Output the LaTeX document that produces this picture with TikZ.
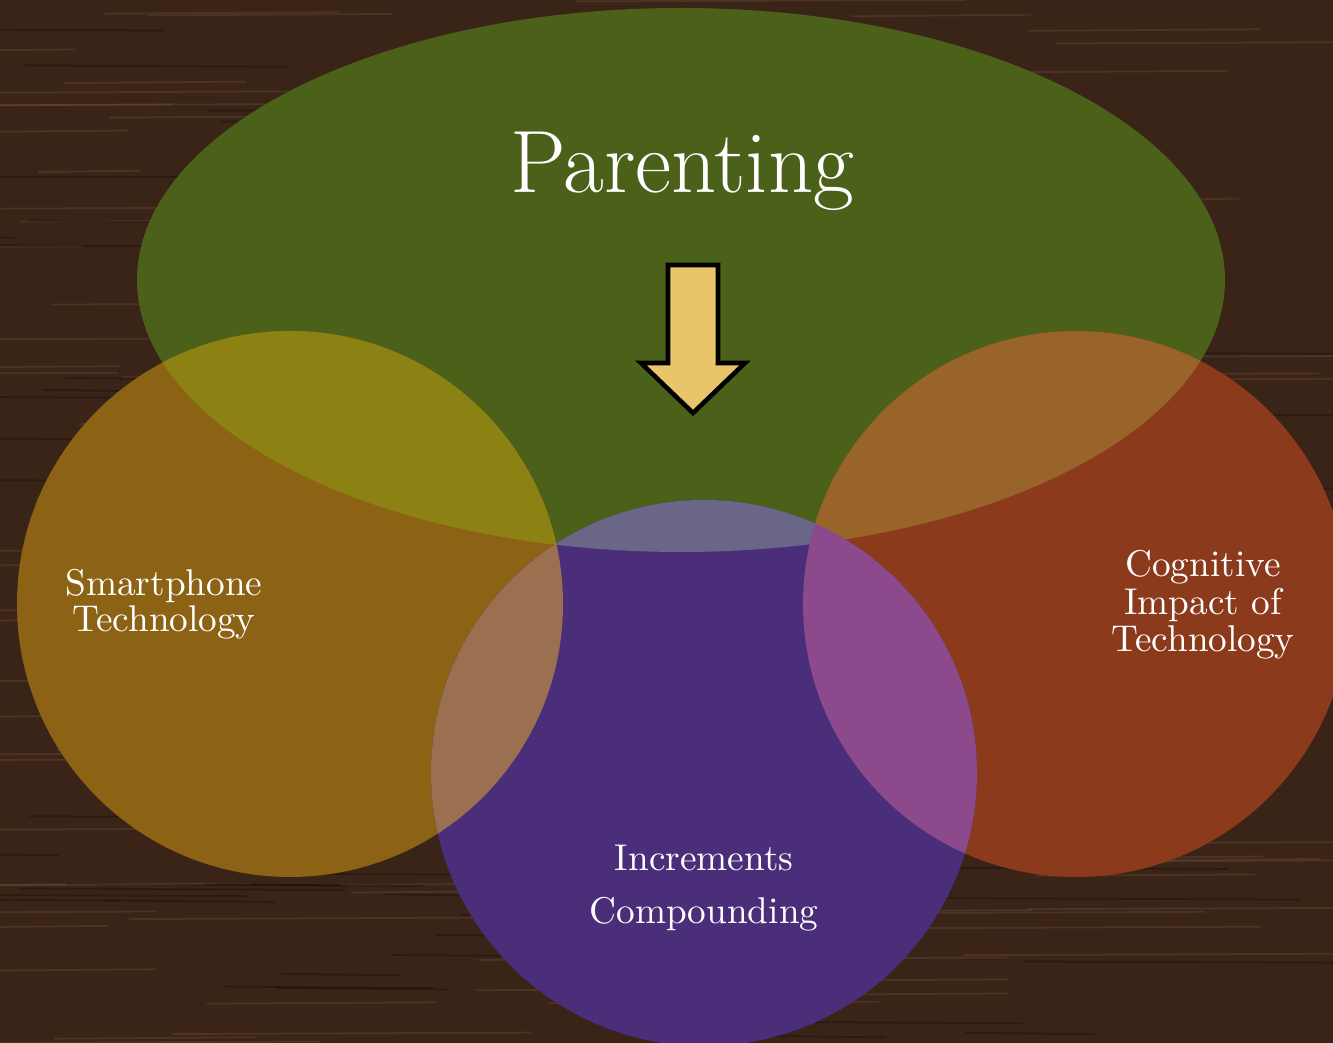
\documentclass[tikz,border=0pt]{standalone}
\usetikzlibrary{calc}
\definecolor{bgwood}{HTML}{3A2418}
\definecolor{cgreen}{HTML}{4B6018}
\definecolor{corange}{HTML}{8C6214}
\definecolor{cred}{HTML}{8C3A1C}
\definecolor{cpurple}{HTML}{4A2E7A}
\definecolor{cgo}{HTML}{8C8214}
\definecolor{cgr}{HTML}{98642A}
\definecolor{cgp}{HTML}{6A6688}
\definecolor{cop}{HTML}{9A7050}
\definecolor{cpr}{HTML}{8C4A8C}
\definecolor{arrowfill}{HTML}{E8C46A}
\tikzset{
  lbl/.style={text=white, inner sep=0pt, anchor=base, font=\fontsize{10.6}{10.6}\selectfont},
  title/.style={text=white, inner sep=0pt, anchor=base, font=\fontsize{25.2}{25.2}\selectfont},
  grain/.style={line width=0.5pt, opacity=0.12},
}
\begin{document}
\begin{tikzpicture}
\useasboundingbox (0,0) rectangle (13.33,10.43);
\fill[bgwood] (0,0) rectangle (13.33,10.43);
% faint wood grain
\pgfmathsetseed{7}
\foreach \i in {1,...,140}{
  \pgfmathsetmacro{\yy}{rnd*10.43}
  \pgfmathsetmacro{\xa}{rnd*13.33-2}
  \pgfmathsetmacro{\ll}{1+rnd*3}
  \draw[grain, draw=brown!70!white] (\xa,\yy) -- ++(\ll,0.015);
}
\foreach \i in {1,...,100}{
  \pgfmathsetmacro{\yy}{rnd*10.43}
  \pgfmathsetmacro{\xa}{rnd*13.33-2}
  \pgfmathsetmacro{\ll}{1+rnd*3}
  \draw[grain, draw=black, opacity=0.25] (\xa,\yy) -- ++(\ll,-0.015);
}
\def\ellG{(6.81,7.63) ellipse [x radius=5.44, y radius=2.72]}
\def\cirO{(2.90,4.39) circle [radius=2.73]}
\def\cirR{(10.76,4.39) circle [radius=2.73]}
\def\cirP{(7.04,2.70) circle [radius=2.73]}
% base shapes
\fill[cgreen] \ellG;
\fill[corange] \cirO;
\fill[cred] \cirR;
\fill[cpurple] \cirP;
% overlaps
\begin{scope}\clip \ellG; \fill[cgo] \cirO; \fill[cgr] \cirR; \fill[cgp] \cirP; \end{scope}
\begin{scope}\clip \cirO; \fill[cop] \cirP; \end{scope}
\begin{scope}\clip \cirR; \fill[cpr] \cirP; \end{scope}
% arrow
\draw[fill=arrowfill, line width=1.3pt, line join=miter]
  (6.68,7.78) -- (7.18,7.78) -- (7.18,6.80) -- (7.45,6.80) -- (6.93,6.30)
  -- (6.41,6.80) -- (6.68,6.80) -- cycle;
% texts
\node[title] (parenting) at (6.82,8.50) {Parenting};
\node[lbl] (smart1) at (1.64,4.47) {Smartphone};
\node[lbl] (smart2) at (1.64,4.11) {Technology};
\node[lbl] (cog1) at (12.03,4.66) {Cognitive};
\node[lbl] (cog2) at (12.03,4.28) {Impact of};
\node[lbl] (cog3) at (12.03,3.91) {Technology};
\node[lbl] (inc1) at (7.04,1.72) {Increments};
\node[lbl] (inc2) at (7.04,1.19) {Compounding};
\end{tikzpicture}
\end{document}
